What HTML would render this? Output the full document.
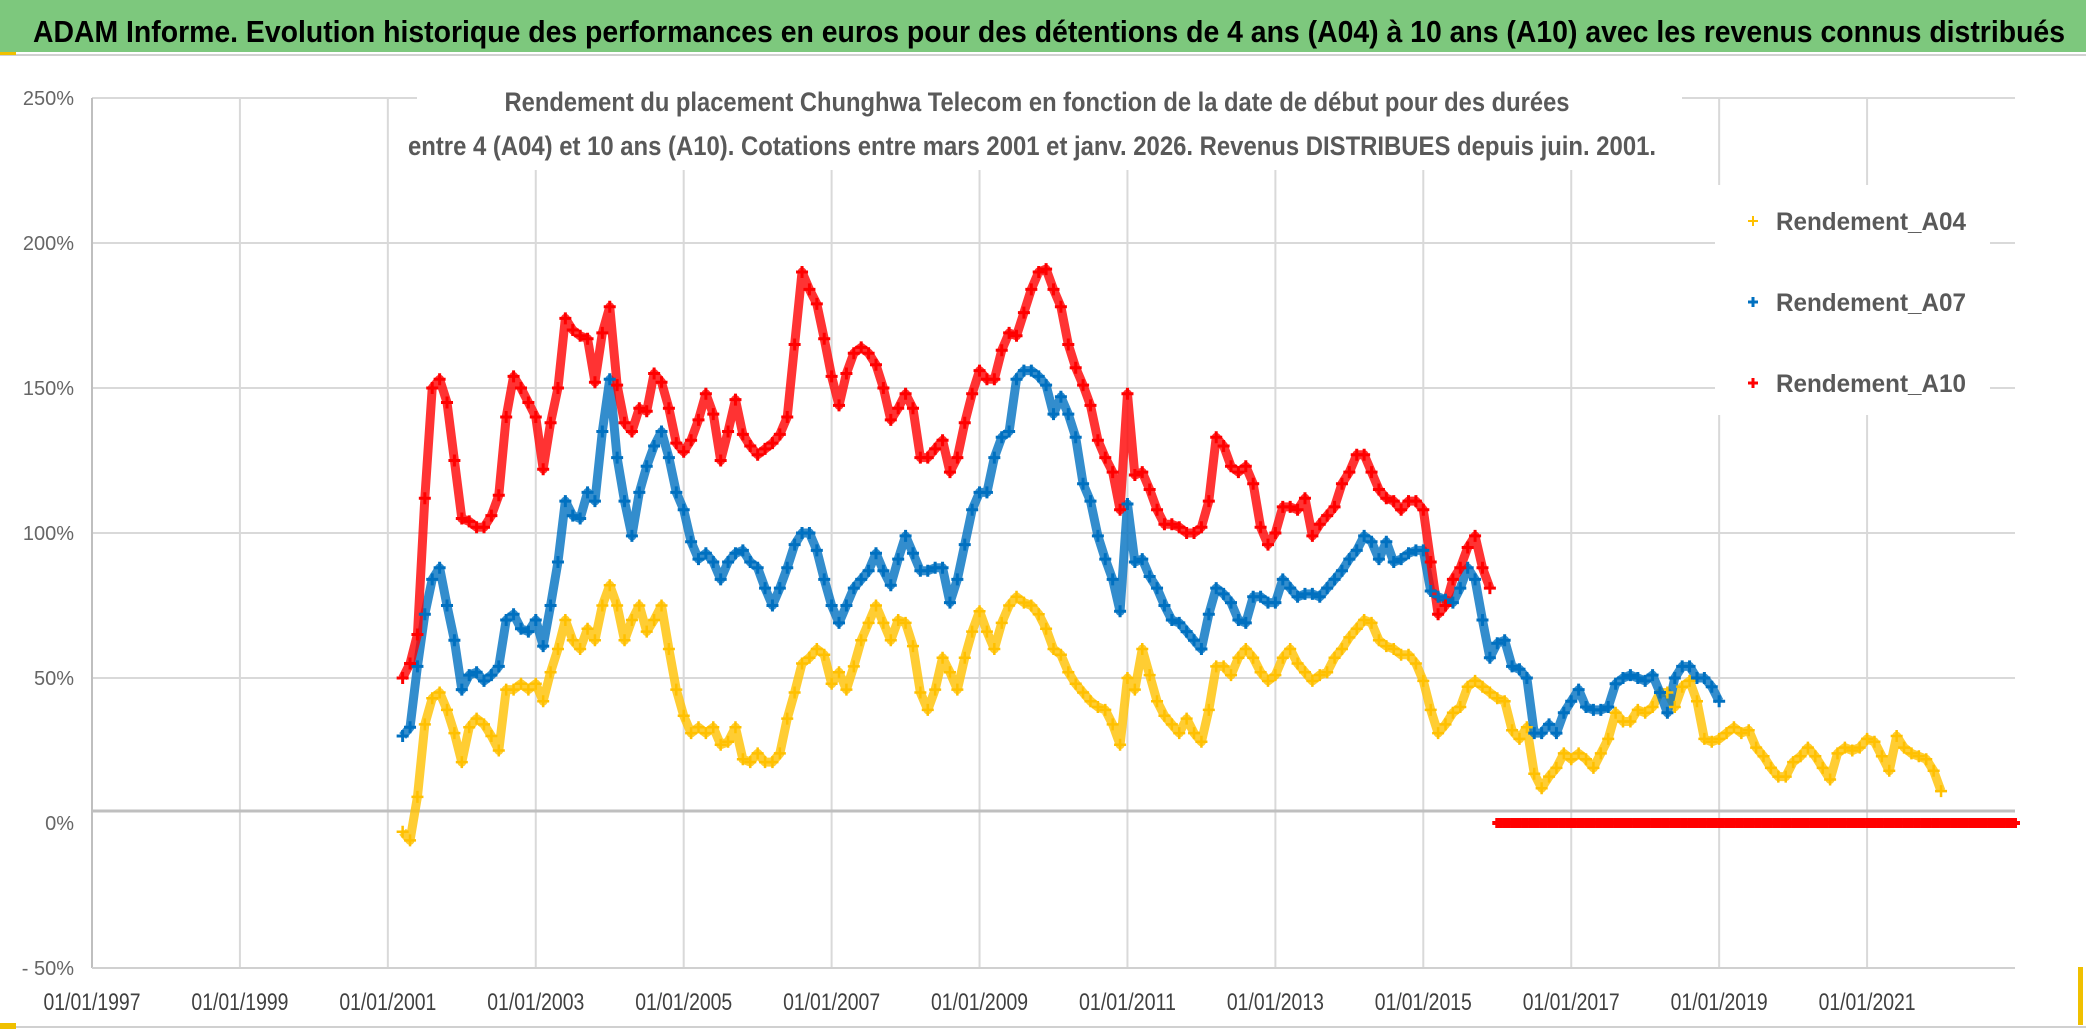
<!DOCTYPE html>
<html><head><meta charset="utf-8"><style>
html,body{margin:0;padding:0;background:#fff;}
svg{display:block;font-family:"Liberation Sans Narrow","Liberation Sans",sans-serif;}
</style></head><body>
<svg id="chart" width="2086" height="1032" viewBox="0 0 2086 1032" xmlns="http://www.w3.org/2000/svg">
<rect x="0" y="0" width="2086" height="1032" fill="#fff"/>
<rect x="0" y="0" width="2086" height="52" fill="#7dc87d"/>
<line x1="0" y1="55" x2="2086" y2="55" stroke="#d0d0d0" stroke-width="2"/>
<rect x="0" y="52" width="16" height="3" fill="#f0c000"/>
<text x="33" y="42" font-size="31" font-weight="bold" fill="#000" textLength="2032" lengthAdjust="spacingAndGlyphs">ADAM Informe. Evolution historique des performances en euros pour des détentions de 4 ans (A04) à 10 ans (A10) avec les revenus connus distribués</text>
<line x1="0" y1="1027" x2="2086" y2="1027" stroke="#d0d0d0" stroke-width="2"/>
<rect x="0" y="1023" width="16" height="6" fill="#f0c000"/>
<rect x="2078" y="967" width="5" height="58" fill="#f0c000"/>
<g id="grid"></g>
<g id="lines"></g>
<g id="marks"></g>
<rect x="417" y="72" width="1265" height="98" fill="#fff"/>
<text x="1037" y="111" font-size="27" font-weight="bold" fill="#595959" text-anchor="middle" textLength="1065" lengthAdjust="spacingAndGlyphs">Rendement du placement Chunghwa Telecom  en fonction de la date de début pour des durées</text>
<text x="1032" y="155" font-size="27" font-weight="bold" fill="#595959" text-anchor="middle" textLength="1248" lengthAdjust="spacingAndGlyphs">entre 4 (A04) et 10 ans (A10). Cotations entre mars 2001 et janv. 2026. Revenus DISTRIBUES depuis juin. 2001.</text>
<g id="legend"></g>
</svg>
<script>
const a10Start=2001.2;
const a10Vals=[50,55,65,112,150,153,145,125,105,104,102,102,106,113,140,154,150,145,140,122,138,150,174,170,168,167,152,169,178,151,138,135,143,142,155,152,143,131,128,132,139,148,141,125,135,146,134,130,127,129,131,134,140,165,190,184,179,167,154,144,155,162,164,162,158,150,139,143,148,143,126,126,129,132,121,126,138,148,156,153,153,163,169,168,176,184,190,191,184,178,165,157,151,144,132,126,121,108,148,120,121,115,108,103,103,102,100,100,102,111,133,130,123,121,123,117,102,96,100,109,109,108,112,99,103,106,109,117,121,127,127,121,115,112,111,108,111,111,108,90,72,75,84,88,95,99,88,81];
const a07Start=2001.2;
const a07Vals=[30,33,54,72,84,88,75,63,46,51,52,49,51,54,70,72,67,66,70,61,75,90,111,106,105,114,111,135,153,126,111,99,114,123,130,135,126,114,108,97,91,93,90,84,90,93,94,90,88,81,75,81,88,96,100,100,94,84,75,69,75,81,84,87,93,87,82,91,99,93,87,87,88,88,76,84,96,108,114,114,126,133,135,153,156,156,154,151,141,147,141,133,117,111,99,91,84,73,110,90,91,85,81,75,70,69,66,63,60,72,81,79,76,70,69,78,78,76,76,84,81,78,79,79,78,81,84,87,91,94,99,97,91,97,90,91,93,94,94,80,78,77,76,81,88,84,70,57,62,63,54,53,50,31,31,34,31,38,42,46,40,39,39,40,48,50,51,50,49,51,45,38,50,54,54,50,50,47,42];
const a04Start=2001.2;
const a04Vals=[-3,-6,9,34,43,45,39,31,21,33,36,34,30,25,46,46,48,46,48,42,52,60,70,63,60,67,63,75,82,75,63,70,75,66,70,75,60,46,37,31,33,31,33,27,28,33,22,21,24,21,21,24,36,45,55,57,60,58,48,52,46,54,63,69,75,69,63,70,69,61,45,39,46,57,52,46,57,66,73,66,60,69,75,78,76,75,72,67,60,58,52,48,45,42,40,39,34,27,50,46,60,51,42,37,34,31,36,31,28,39,54,54,51,57,60,57,52,49,51,57,60,55,52,49,51,52,57,60,64,67,70,69,63,61,60,58,58,55,49,39,31,34,38,40,47,49,47,45,43,42,32,29,33,17,12,16,19,24,22,24,22,19,24,29,38,35,35,39,38,40,45,45,40,47,49,42,29,28,29,31,33,31,32,26,23,19,16,16,21,23,26,23,19,15,24,26,25,26,29,28,23,18,30,26,24,23,22,18,11];
const a10Zero={start:2016.0,end:2023.0,value:0};
const a04Zero={start:2022.1,end:2023.0,value:0};
const yTicks=[250,200,150,100,50,0,-50];
const yTickLabels=["250%","200%","150%","100%","50%","0%","- 50%"];
const xTicks=[1997,1999,2001,2003,2005,2007,2009,2011,2013,2015,2017,2019,2021];
const xTickLabels=["01/01/1997","01/01/1999","01/01/2001","01/01/2003","01/01/2005","01/01/2007","01/01/2009","01/01/2011","01/01/2013","01/01/2015","01/01/2017","01/01/2019","01/01/2021"];
const seriesNames=["Rendement_A04","Rendement_A07","Rendement_A10"];

const NS="http://www.w3.org/2000/svg";
const X0=92,X1=2015,T0=1997,T1=2023;
function xs(t){return X0+(t-T0)*(X1-X0)/(T1-T0);}
function ys(v){return 98+(250-v)*2.9;}
function mk(tag,attrs,parent){const e=document.createElementNS(NS,tag);for(const k in attrs)e.setAttribute(k,attrs[k]);parent.appendChild(e);return e;}
const grid=document.getElementById('grid');
yTicks.forEach((v,i)=>{
  if(v!==0&&v!==-50){const l=mk('line',{x1:X0,x2:X1,y1:ys(v),y2:ys(v),stroke:'#d9d9d9','stroke-width':2},grid);
  
  }
  const t=mk('text',{x:74,y:ys(v)+7,'font-size':20,fill:'#666','text-anchor':'end'},grid);
  t.textContent=yTickLabels[i];
  
  
});
xTicks.forEach((t,i)=>{
  const x=xs(t);
  if(i>0){const l=mk('line',{x1:x,x2:x,y1:ys(250),y2:ys(-50),stroke:'#d9d9d9','stroke-width':2},grid);
  
  }
  const tx=mk('text',{x:x,y:1010,'font-size':24,fill:'#404040','text-anchor':'middle',textLength:97,lengthAdjust:'spacingAndGlyphs'},grid);
  tx.textContent=xTickLabels[i];
  
  
});
const ya=mk('line',{x1:X0,x2:X0,y1:ys(250),y2:ys(-50),stroke:'#bfbfbf','stroke-width':2},grid);


const xa=mk('line',{x1:X0,x2:X1,y1:811,y2:811,stroke:'#bfbfbf','stroke-width':3},grid);


const xb=mk('line',{x1:X0,x2:X1,y1:ys(-50),y2:ys(-50),stroke:'#d0d0d0','stroke-width':2},grid);



const lines=document.getElementById('lines'),marks=document.getElementById('marks');
function plus(x,y,c,s,w,g,name){
  const p=mk('path',{d:`M${x-s} ${y}H${x+s}M${x} ${y-s}V${y+s}`,stroke:c,'stroke-width':w,fill:'none'},g);
  
  
}
function series(start,vals,c,w,name,lw){
  let pts=vals.map((v,i)=>[xs(start+i*0.1),ys(v)]);
  const pl=mk('polyline',{points:pts.map(p=>p.join(',')).join(' '),stroke:c,'stroke-width':lw,fill:'none','stroke-linejoin':'round','stroke-opacity':0.8},lines);
  
  
  pts.forEach(p=>plus(p[0],p[1],c,6,w,marks,name+'-point'));
}
function flat(z,c,name){
  const n=Math.round((z.end-z.start)/0.05);
  for(let i=0;i<=n;i++){plus(xs(z.start+i*0.05),ys(z.value),c,5,4,marks,name+'-point');}
}
series(a04Start,a04Vals,'#ffc000',2.5,'a04',9);
series(a07Start,a07Vals,'#0070c0',3,'a07',9);
series(a10Start,a10Vals,'#ff0000',3,'a10',9);
flat(a04Zero,'#ffc000','a04-zero');
flat(a10Zero,'#ff0000','a10-zero');

const lg=document.getElementById('legend');
mk('rect',{x:1715,y:185,width:275,height:230,fill:'#fff'},lg);
const cols=['#ffc000','#0070c0','#ff0000'];
seriesNames.forEach((n,i)=>{
  const y=221+i*81;
  plus(1753,y,cols[i],5,i==0?2:3,lg,'legend-marker');
  const t=mk('text',{x:1776,y:y+9,'font-size':25,'font-weight':'bold',fill:'#595959',textLength:190,lengthAdjust:'spacingAndGlyphs'},lg);
  t.textContent=n;
  
  
});
</script>
</body></html>
